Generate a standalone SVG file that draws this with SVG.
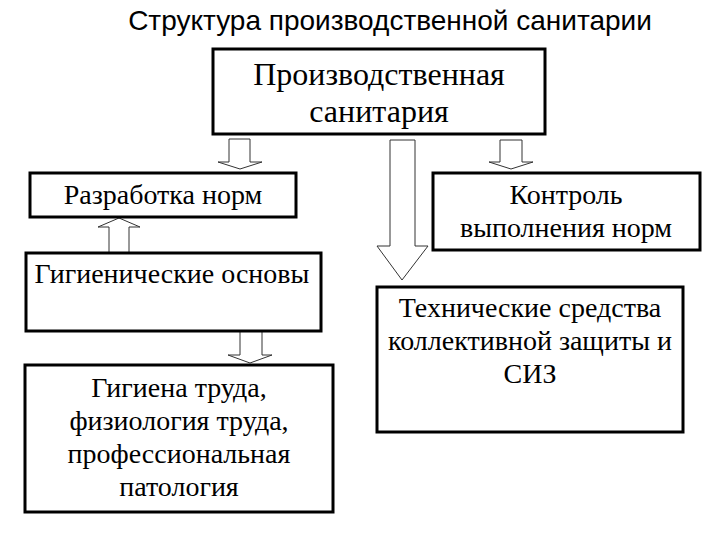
<svg xmlns="http://www.w3.org/2000/svg" width="720" height="540" viewBox="0 0 720 540">
<style>
.box{fill:#fff;stroke:#000;stroke-width:3}
.arr{fill:#fff;stroke:#333;stroke-width:1}
.t{font-family:"Liberation Serif","Times New Roman",serif;font-size:28px;fill:#000;text-anchor:middle}
.big{font-size:32px}
.title{font-family:"Liberation Sans",Arial,sans-serif;font-size:28px;fill:#000;text-anchor:middle}
</style>
<rect width="720" height="540" fill="#fff"/>
<text class="title" x="390" y="30">Структура производственной санитарии</text>
<g id="connectors">
<polygon class="arr" points="229,139 250,139 250,162 262,162 240,169 218,162 229,162"/>
<polygon class="arr" points="390,140 415,140 415,246 428,246 402,280 377,246 390,246"/>
<polygon class="arr" points="500,140 522,140 522,162 533,162 511,169 489,162 500,162"/>
<polygon class="arr" points="109,253 129,253 129,227 140,227 119,218 98,227 109,227"/>
<polygon class="arr" points="240,331 262,331 262,355 272,355 250,363 228,355 240,355"/>
</g>
<g id="node-top">
<rect class="box" x="213" y="49" width="332" height="85"/>
<text class="t big" x="379" y="85">Производственная</text>
<text class="t big" x="379" y="122">санитария</text>
</g>
<g id="node-razrabotka">
<rect class="box" x="30" y="173" width="266" height="44"/>
<text class="t" x="163" y="204">Разработка норм</text>
</g>
<g id="node-kontrol">
<rect class="box" x="433" y="173" width="267" height="77"/>
<text class="t" x="566" y="204">Контроль</text>
<text class="t" x="566" y="237">выполнения норм</text>
</g>
<g id="node-gigien-osnovy">
<rect class="box" x="26" y="253" width="295" height="78"/>
<text class="t" x="172" y="283">Гигиенические основы</text>
</g>
<g id="node-tech">
<rect class="box" x="377" y="287" width="306" height="145"/>
<text class="t" x="530" y="317">Технические средства</text>
<text class="t" x="530" y="350">коллективной защиты и</text>
<text class="t" x="530" y="383">СИЗ</text>
</g>
<g id="node-gigiena-truda">
<rect class="box" x="25" y="365" width="308" height="147"/>
<text class="t" x="179" y="397">Гигиена труда,</text>
<text class="t" x="179" y="430">физиология труда,</text>
<text class="t" x="179" y="463">профессиональная</text>
<text class="t" x="179" y="496">патология</text>
</g>
</svg>
